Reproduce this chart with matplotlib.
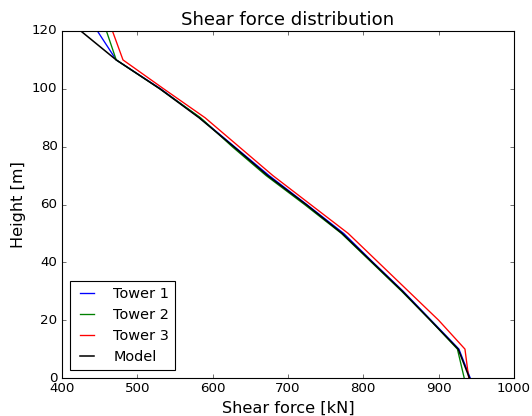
import numpy as np
import matplotlib
matplotlib.use('Agg')
import matplotlib.pyplot as plt

plt.style.use('classic')

heights = [0, 10, 20, 30, 40, 50, 60, 70, 80, 90, 100, 110, 120]
tower1  = [942, 927, 890, 853, 813, 774, 725, 675, 629, 583, 531, 472, 447]
tower2  = [934, 925, 889, 851, 811, 771, 722, 671, 626, 584, 530, 472, 459]
tower3  = [940, 935, 900, 860, 820, 780, 730, 680, 635, 590, 535, 481, 467]
model   = [941, 926, 889, 852, 812, 772, 724, 673, 628, 582, 530, 472, 425]

fig = plt.figure(figsize=(6.65, 5.2), dpi=80)
ax = fig.add_axes([0.1165, 0.0913, 0.8495, 0.8342])

ax.plot(tower1, heights, color='b', lw=1.2, label='Tower 1')
ax.plot(tower2, heights, color='g', lw=1.2, label='Tower 2')
ax.plot(tower3, heights, color='r', lw=1.2, label='Tower 3')
ax.plot(model,  heights, color='k', lw=1.4, label='Model')

ax.set_xlim(400, 1000)
ax.set_ylim(0, 120)
ax.set_xlabel('Shear force [kN]', fontsize=14.5)
ax.set_ylabel('Height [m]', fontsize=14.5)
ax.set_title('Shear force distribution', fontsize=16.3)
ax.legend(loc='lower left', fontsize=13, handlelength=1.6,
          handletextpad=1.0, borderaxespad=0.55)

fig.savefig('out.png', dpi=80)
